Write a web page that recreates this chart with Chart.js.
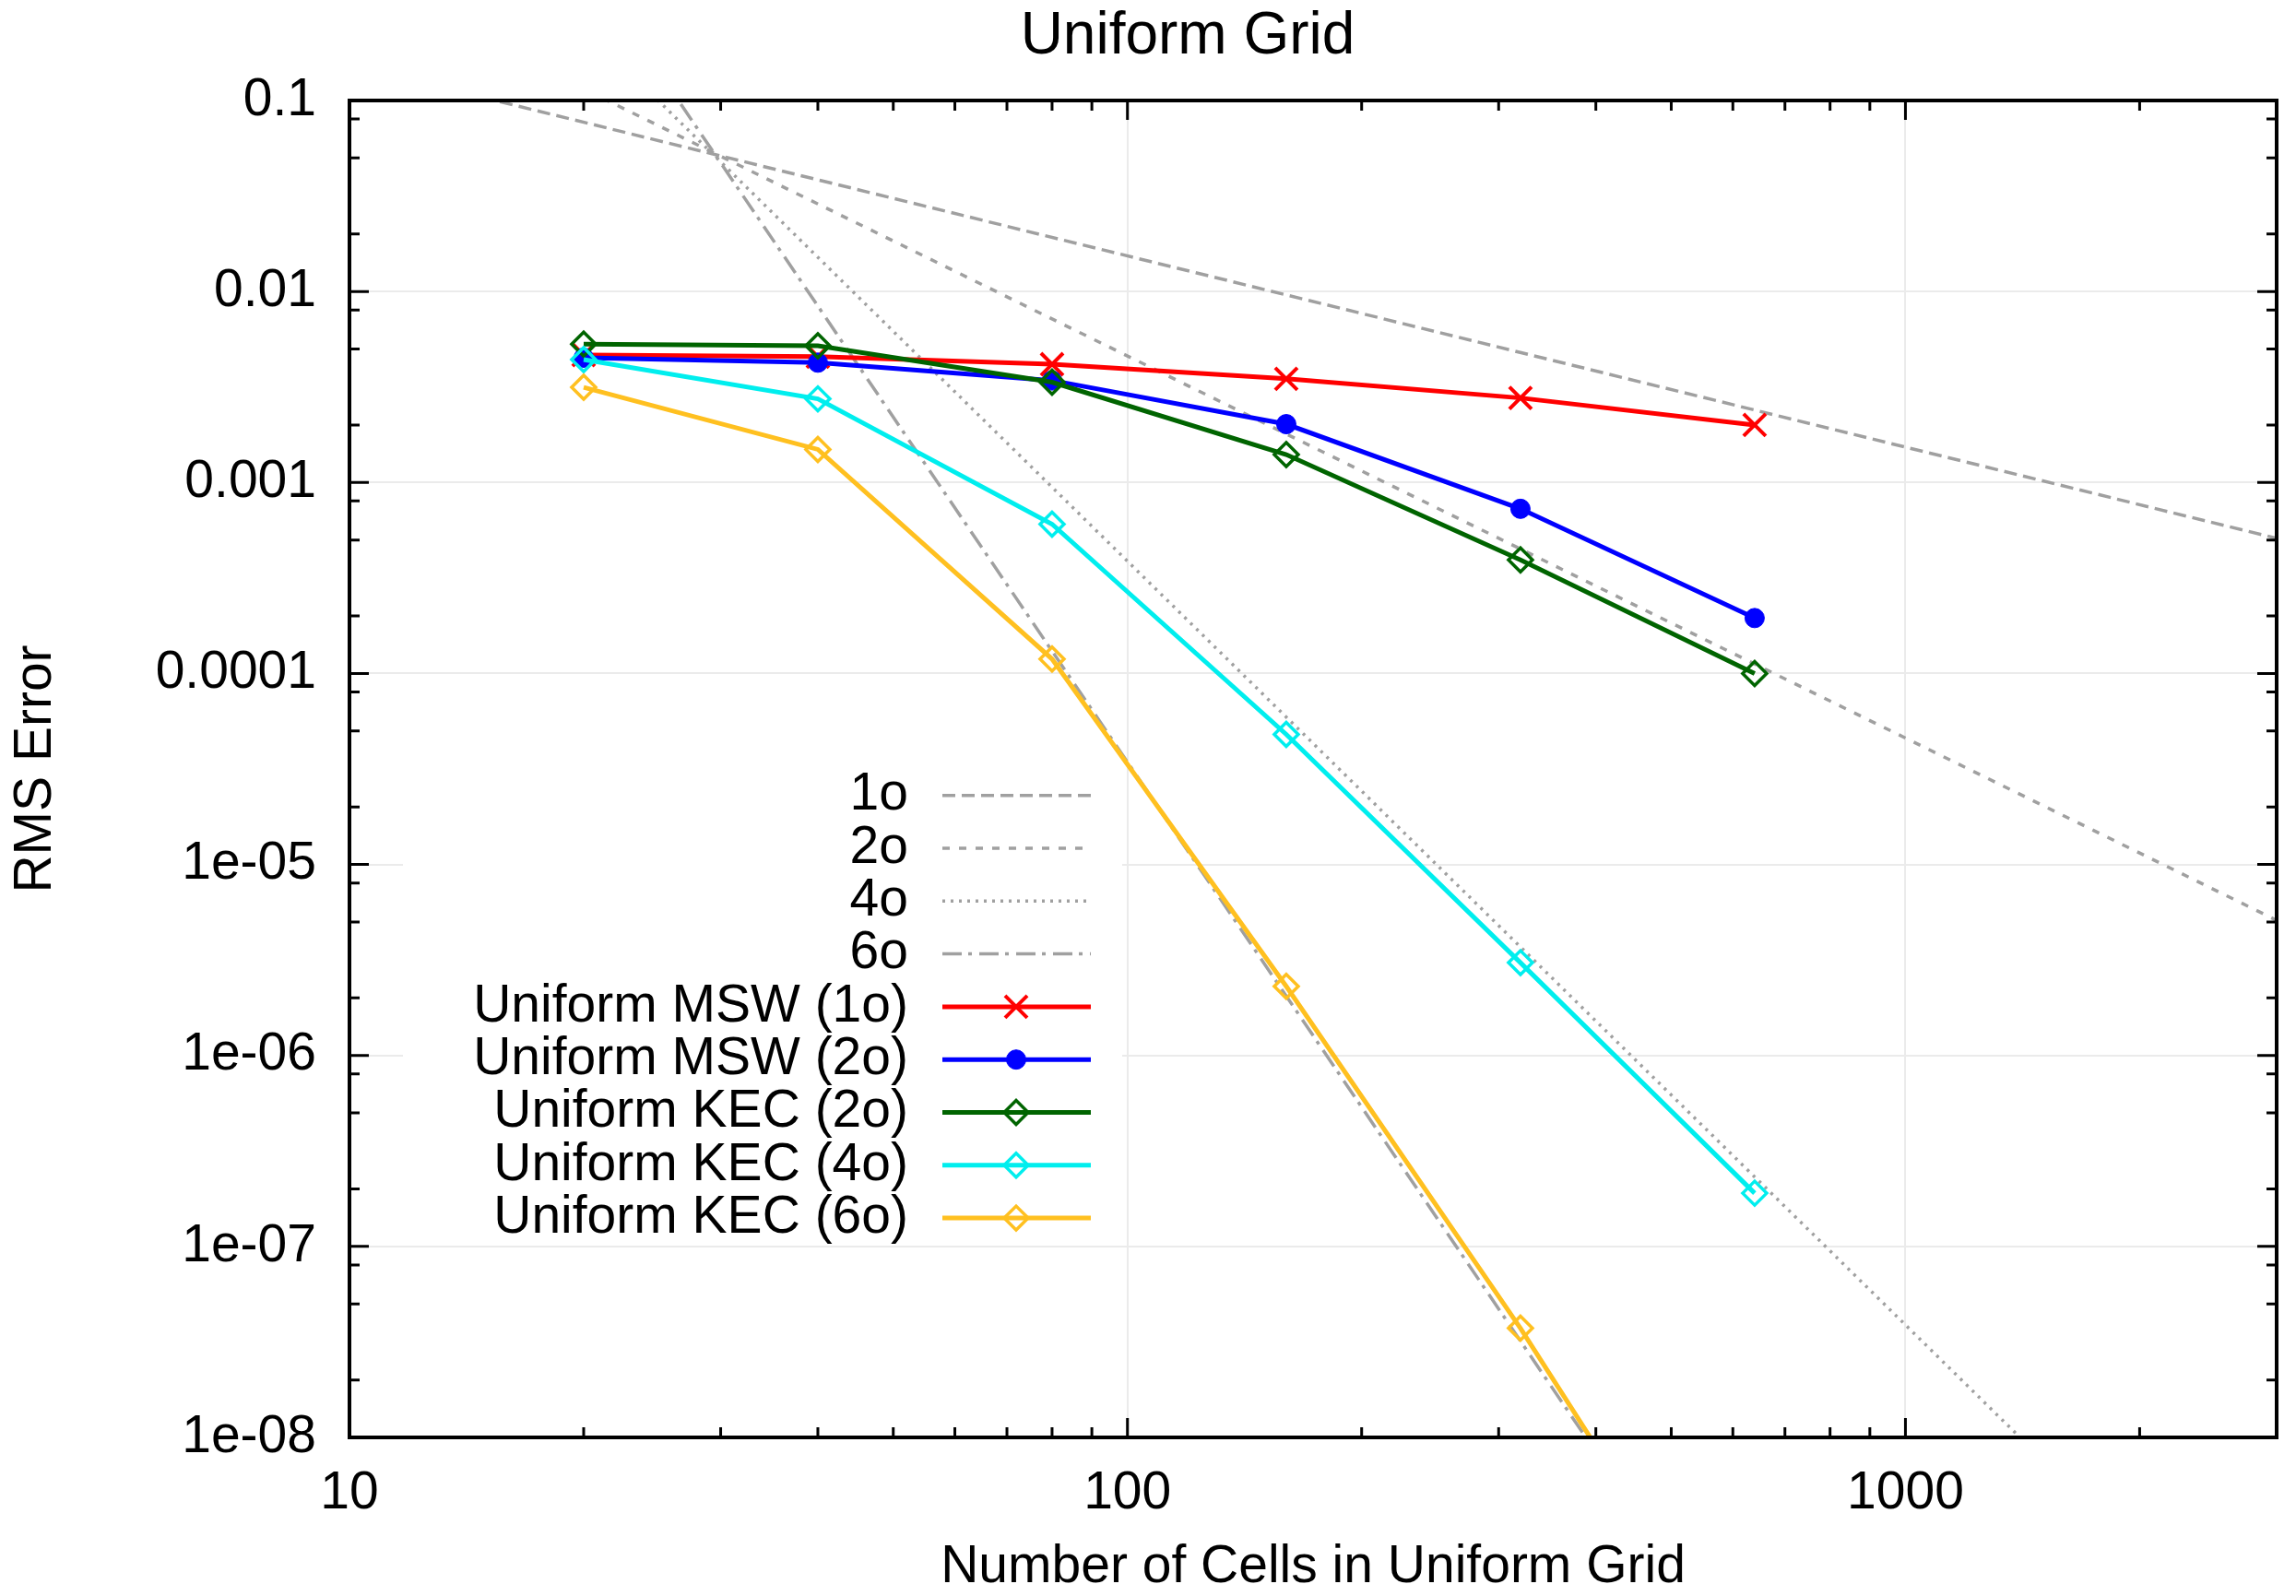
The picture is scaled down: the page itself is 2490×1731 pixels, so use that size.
<!DOCTYPE html>
<html>
<head>
<meta charset="utf-8">
<title>Uniform Grid</title>
<script src="https://cdn.jsdelivr.net/npm/chart.js@4.4.1/dist/chart.umd.min.js"></script>
<style>
    html, body { margin: 0; padding: 0; background: #fff; }
    canvas { display: block; }
</style>
</head>
<body>
<canvas id="chart__grid" width="2490" height="1731"></canvas>
<script>
// DATA
const cells = [20, 40, 80, 160, 320, 640];
const mswFirst = [0.00465, 0.00456, 0.00416, 0.00349, 0.00277, 0.0020];
const mswSecond = [0.0045, 0.00424, 0.00342, 0.00202, 0.000728, 0.000195];
const kecSecond = [0.0053, 0.0052, 0.00335, 0.0014, 0.000393, 0.0001];
const kecFourth = [0.0044, 0.00274, 0.000605, 4.8e-5, 3.06e-6, 1.9e-7];
const kecSixth = [0.00315, 0.00149, 0.000119, 2.3e-6, 3.73e-8, 4.5e-10];

// reference slopes, end points at the left and right edge
const refCells = [10, 3000];
const ref1o = [0.154, 5.1e-4];
const ref2o = [0.46, 5.1e-6];
const ref4o = [3.86, 4.8e-10];
const ref6o = [34.4, 4.7e-14];

const xTickValues = [10, 100, 1000];
const xTickLabels = ['10', '100', '1000'];
const yTickValues = [0.1, 0.01, 0.001, 0.0001, 1e-5, 1e-6, 1e-7, 1e-8];
const yTickLabels = ['0.1', '0.01', '0.001', '0.0001', '1e-05', '1e-06', '1e-07', '1e-08'];
const xMinorSteps = [2, 3, 4, 5, 6, 7, 8, 9];
const yMinorSteps = [2, 5, 8];

const chartTitle = 'Uniform Grid';
const xTitle = 'Number of Cells in Uniform Grid';
const yTitle = 'RMS Error';

const FONT = "'Liberation Sans', Arial, Helvetica, sans-serif";
const GREY = '#a0a0a0';

const toPoints = (xs, ys) => xs.map((x, i) => ({ x: x, y: ys[i] }));

function refLine(label, ys, dash) {
    return {
        label: label,
        data: toPoints(refCells, ys),
        borderColor: GREY,
        borderWidth: 3.5,
        borderDash: dash,
        pointRadius: 0,
        pointHoverRadius: 0,
        fill: false,
    };
}

function dataLine(label, ys, color, style, radius, border, filled) {
    return {
        label: label,
        data: toPoints(cells, ys),
        borderColor: color,
        borderWidth: 5,
        borderDash: [],
        pointStyle: style,
        pointRadius: radius,
        pointHoverRadius: radius,
        pointBorderWidth: border,
        pointBorderColor: color,
        pointBackgroundColor: filled ? color : 'rgba(0,0,0,0)',
        fill: false,
    };
}

const datasets = [
    refLine('1o', ref1o, [14, 7]),
    refLine('2o', ref2o, [8, 10]),
    refLine('4o', ref4o, [3, 6]),
    refLine('6o', ref6o, [21, 7, 4, 8]),
    dataLine('Uniform MSW (1o)', mswFirst, '#ff0000', 'crossRot', 17, 4, false),
    dataLine('Uniform MSW (2o)', mswSecond, '#0000ff', 'circle', 10.5, 1, true),
    dataLine('Uniform KEC (2o)', kecSecond, '#006400', 'rectRot', 13, 3.5, false),
    dataLine('Uniform KEC (4o)', kecFourth, '#00eeee', 'rectRot', 13, 3.5, false),
    dataLine('Uniform KEC (6o)', kecSixth, '#ffc020', 'rectRot', 13, 3.5, false),
];
// later series drawn on top, like gnuplot
datasets.forEach((ds, i) => { ds.order = datasets.length - i; });

function drawMarker(ctx, ds, x, y) {
    ctx.fillStyle = ds.pointBackgroundColor;
    ctx.strokeStyle = ds.pointBorderColor;
    ctx.lineWidth = ds.pointBorderWidth;
    if (Chart.helpers && Chart.helpers.drawPoint) {
        Chart.helpers.drawPoint(ctx, {
            pointStyle: ds.pointStyle,
            radius: ds.pointRadius,
            borderWidth: ds.pointBorderWidth,
            rotation: 0,
        }, x, y);
    }
}

// title text
const titlePlugin = {
    id: 'titlePlugin',
    afterDraw(chart) {
        const ctx = chart.ctx;
        ctx.save();
        ctx.font = `64px ${FONT}`;
        ctx.fillStyle = '#000';
        ctx.textAlign = 'center';
        ctx.textBaseline = 'middle';
        ctx.fillText(chartTitle, 1288, 40);
        ctx.restore();
    }
};

// opaque key inside the plot
const keyPlugin = {
    id: 'keyPlugin',
    afterDatasetsDraw(chart) {
        const ctx = chart.ctx;
        ctx.save();
        ctx.fillStyle = '#fff';
        ctx.fillRect(437, 833, 780, 518);
        ctx.font = `57px ${FONT}`;
        ctx.textAlign = 'right';
        ctx.textBaseline = 'middle';
        chart.data.datasets.forEach((ds, i) => {
            const y = 862.7 + i * 57.3;
            ctx.fillStyle = '#000';
            ctx.fillText(ds.label, 985, y);
            ctx.strokeStyle = ds.borderColor;
            ctx.lineWidth = ds.borderWidth;
            ctx.setLineDash(ds.borderDash || []);
            ctx.beginPath();
            ctx.moveTo(1022, y);
            ctx.lineTo(1183, y);
            ctx.stroke();
            ctx.setLineDash([]);
            if (ds.pointRadius > 0) drawMarker(ctx, ds, 1102, y);
        });
        ctx.restore();
    }
};

// border and inward tics on all four sides
const framePlugin = {
    id: 'framePlugin',
    afterDraw(chart) {
        const { ctx, chartArea: a, scales: { x, y } } = chart;
        ctx.save();
        ctx.strokeStyle = '#000';
        ctx.lineWidth = 3;
        ctx.beginPath();
        xTickValues.forEach((d) => {
            [1, ...xMinorSteps].forEach((m) => {
                const v = d * m;
                if (v > x.max * 1.0001) return;
                const px = x.getPixelForValue(v);
                const len = m === 1 ? 21 : 11;
                ctx.moveTo(px, a.bottom); ctx.lineTo(px, a.bottom - len);
                ctx.moveTo(px, a.top); ctx.lineTo(px, a.top + len);
            });
        });
        yTickValues.forEach((d) => {
            [1, ...yMinorSteps].forEach((m) => {
                const v = d * m;
                if (v > y.max * 1.0001) return;
                const py = y.getPixelForValue(v);
                const len = m === 1 ? 21 : 11;
                ctx.moveTo(a.left, py); ctx.lineTo(a.left + len, py);
                ctx.moveTo(a.right, py); ctx.lineTo(a.right - len, py);
            });
        });
        ctx.stroke();
        ctx.lineWidth = 4;
        ctx.strokeRect(a.left, a.top, a.right - a.left, a.bottom - a.top);
        ctx.restore();
    }
};

const gridChart = new Chart(document.getElementById('chart__grid').getContext('2d'), {
    type: 'line',
    data: { datasets: datasets },
    options: {
        responsive: false,
        animation: false,
        devicePixelRatio: 1,
        events: [],
        layout: { padding: { top: 109, right: 16, left: 0, bottom: 0 } },
        font: { family: FONT },
        plugins: {
            legend: { display: false },
            title: { display: false },
            tooltip: { enabled: false },
        },
        scales: {
            x: {
                type: 'logarithmic',
                position: 'bottom',
                min: 10,
                max: 3000,
                afterBuildTicks: (s) => { s.ticks = xTickValues.map((v) => ({ value: v })); },
                afterFit: (s) => { s.height = 172; },
                ticks: {
                    autoSkip: false,
                    maxRotation: 0,
                    padding: 27,
                    color: '#000',
                    font: { family: FONT, size: 57 },
                    callback: (v, i) => xTickLabels[i],
                },
                grid: { color: '#ebebeb', lineWidth: 2, drawTicks: false },
                border: { display: false },
                title: {
                    display: true,
                    text: xTitle,
                    color: '#000',
                    font: { family: FONT, size: 57, lineHeight: 1 },
                    padding: { top: 0, bottom: 2.5 },
                },
            },
            y: {
                type: 'logarithmic',
                position: 'left',
                min: 1e-8,
                max: 0.1,
                afterBuildTicks: (s) => { s.ticks = yTickValues.map((v) => ({ value: v })); },
                afterFit: (s) => { s.width = 379; },
                ticks: {
                    autoSkip: false,
                    padding: 36,
                    color: '#000',
                    font: { family: FONT, size: 57 },
                    callback: (v, i) => yTickLabels[i],
                },
                grid: { color: '#ebebeb', lineWidth: 2, drawTicks: false },
                border: { display: false },
                title: {
                    display: true,
                    text: yTitle,
                    color: '#000',
                    font: { family: FONT, size: 57, lineHeight: 1.2 },
                    padding: { top: 5, bottom: 0 },
                },
            },
        },
    },
    plugins: [keyPlugin, framePlugin, titlePlugin],
});
</script>
</body>
</html>
